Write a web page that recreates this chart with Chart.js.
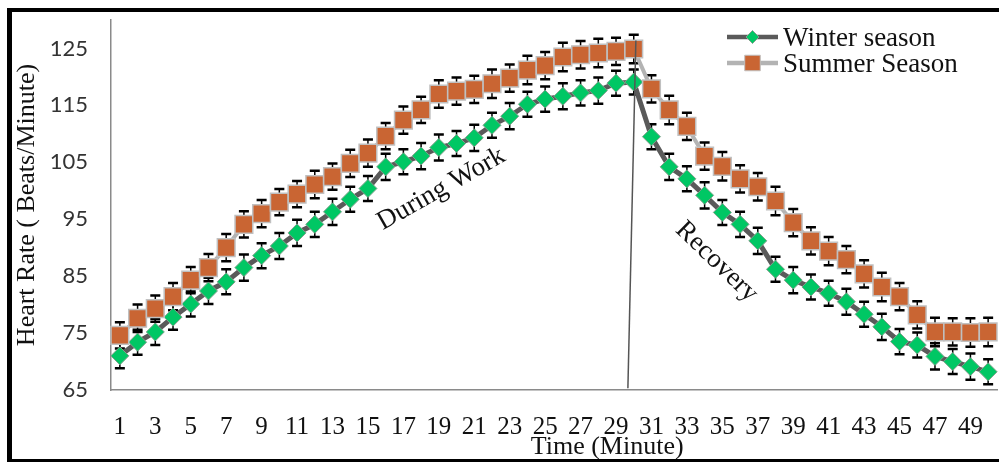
<!DOCTYPE html>
<html>
<head>
<meta charset="utf-8">
<script src="https://cdn.jsdelivr.net/npm/chart.js@4.4.1/dist/chart.umd.min.js"></script>
<style>
html, body { margin: 0; padding: 0; background: #fff; }
#wrap { position: relative; width: 999px; height: 462px; overflow: hidden; }
#frame { position: absolute; left: 7px; top: 8px; width: 1000px; height: 447px; border-top: 4px solid #000; border-left: 5px solid #000; border-bottom: 3px solid #000; pointer-events: none; }
canvas { position: absolute; left: 0; top: 0; }
</style>
</head>
<body>
<div id="wrap">
  <canvas id="hrChart" width="999" height="462"></canvas>
  <div id="frame"></div>
</div>
<script>
const minutes = [1,2,3,4,5,6,7,8,9,10,11,12,13,14,15,16,17,18,19,20,21,22,23,24,25,
                 26,27,28,29,30,31,32,33,34,35,36,37,38,39,40,41,42,43,44,45,46,47,48,49,50];
const yTicks = [65, 75, 85, 95, 105, 115, 125];

const winter = [71.0, 73.4, 75.2, 77.8, 80.1, 82.4, 84.0, 86.5, 88.6, 90.3,
                92.6, 94.1, 96.3, 98.5, 100.4, 104.2, 105.1, 106.1, 107.6, 108.3,
                109.3, 111.5, 113.1, 115.2, 116.1, 116.6, 117.2, 117.6, 118.9, 119.1,
                109.5, 104.2, 102.1, 99.2, 96.2, 94.1, 91.2, 86.2, 84.3, 83.1,
                82.0, 80.5, 78.3, 76.1, 73.5, 72.9, 70.9, 70.0, 69.1, 68.2];
const winterErr = [2.2, 2.2, 2.3, 2.2, 2.2, 2.3, 2.2, 2.3, 2.2, 2.3,
                   2.3, 2.2, 2.3, 2.2, 2.2, 2.3, 2.2, 2.3, 2.3, 2.2,
                   2.3, 2.2, 2.3, 2.2, 2.2, 2.3, 2.2, 2.3, 2.2, 2.2,
                   2.2, 2.3, 2.2, 2.3, 2.2, 2.2, 2.3, 2.2, 2.3, 2.2,
                   2.2, 2.3, 2.2, 2.3, 2.2, 2.2, 2.3, 2.2, 2.3, 2.2];

const summer = [74.6, 77.6, 79.3, 81.4, 84.3, 86.5, 90.0, 94.1, 96.0, 98.0,
                99.4, 101.1, 102.5, 104.8, 106.6, 109.6, 112.4, 114.2, 117.0, 117.5,
                117.8, 118.8, 119.8, 121.2, 122.0, 123.5, 123.9, 124.2, 124.5, 124.9,
                117.9, 114.2, 111.3, 106.1, 104.3, 102.1, 100.7, 98.2, 94.4, 91.2,
                89.4, 87.9, 85.4, 83.1, 81.4, 78.2, 75.2, 75.2, 75.1, 75.2];
const summerErr = [2.3, 2.4, 2.3, 2.4, 2.3, 2.4, 2.4, 2.3, 2.4, 2.3,
                   2.3, 2.4, 2.3, 2.4, 2.4, 2.3, 2.4, 2.3, 2.4, 2.4,
                   2.4, 2.5, 2.4, 2.5, 2.4, 2.5, 2.4, 2.5, 2.4, 2.5,
                   2.4, 2.5, 2.4, 2.4, 2.5, 2.4, 2.4, 2.5, 2.4, 2.4,
                   2.5, 2.4, 2.4, 2.5, 2.4, 2.4, 2.5, 2.4, 2.5, 2.5];

const serif = '"Liberation Serif", "Times New Roman", serif';

// text notes and the divider line, placed in data units (category index, bpm)
const notes = [
    { text: 'During Work', at: [18.14, 100.3], angle: -29.5 },
    { text: 'Recovery', at: [33.68, 87.5], angle: 44 }
];
const divider = { from: [29.12, 126.4], to: [28.67, 65.3] };

const errorBars = {
    id: 'errorBars',
    beforeDatasetsDraw(chart) {
        const ctx = chart.ctx, y = chart.scales.y;
        ctx.save();
        ctx.strokeStyle = '#000';
        chart.data.datasets.forEach((ds, i) => {
            const meta = chart.getDatasetMeta(i);
            meta.data.forEach((pt, j) => {
                const top = y.getPixelForValue(ds.data[j] + ds.err[j]);
                const bot = y.getPixelForValue(ds.data[j] - ds.err[j]);
                ctx.lineWidth = 1.5;
                ctx.beginPath();
                ctx.moveTo(pt.x, top); ctx.lineTo(pt.x, bot);
                ctx.stroke();
                ctx.lineWidth = 2.5;
                ctx.beginPath();
                ctx.moveTo(pt.x - 5, top); ctx.lineTo(pt.x + 5, top);
                ctx.moveTo(pt.x - 5, bot); ctx.lineTo(pt.x + 5, bot);
                ctx.stroke();
            });
        });
        ctx.restore();
    }
};

const annotations = {
    id: 'annotations',
    afterDatasetsDraw(chart) {
        const ctx = chart.ctx, xs = chart.scales.x, ys = chart.scales.y;
        ctx.save();
        ctx.strokeStyle = '#555';
        ctx.lineWidth = 1.5;
        ctx.beginPath();
        ctx.moveTo(xs.getPixelForValue(divider.from[0]), ys.getPixelForValue(divider.from[1]));
        ctx.lineTo(xs.getPixelForValue(divider.to[0]), ys.getPixelForValue(divider.to[1]));
        ctx.stroke();

        ctx.fillStyle = '#111';
        ctx.font = '27px ' + serif;
        ctx.textAlign = 'center';
        ctx.textBaseline = 'middle';
        notes.forEach(n => {
            ctx.save();
            ctx.translate(xs.getPixelForValue(n.at[0]), ys.getPixelForValue(n.at[1]));
            ctx.rotate(n.angle * Math.PI / 180);
            ctx.fillText(n.text, 0, 0);
            ctx.restore();
        });

        // x axis title, drawn by hand so it can sit off-centre like the original
        const area = chart.chartArea;
        ctx.font = '26px ' + serif;
        ctx.textBaseline = 'alphabetic';
        ctx.fillText('Time (Minute)', area.left + (area.right - area.left) * 0.56, 454);
        ctx.restore();
    }
};

const lineLegend = {
    id: 'lineLegend',
    afterDraw(chart) {
        const ctx = chart.ctx;
        ctx.save();
        chart.data.datasets.forEach((ds, i) => {
            const y = 37 + i * 26;
            ctx.strokeStyle = ds.borderColor;
            ctx.lineWidth = 4.5;
            ctx.beginPath();
            ctx.moveTo(727, y); ctx.lineTo(778, y);
            ctx.stroke();
            ctx.fillStyle = ds.pointBackgroundColor;
            ctx.strokeStyle = ds.pointBorderColor;
            ctx.lineWidth = 1;
            Chart.helpers.drawPoint(ctx, { pointStyle: ds.pointStyle, radius: ds.legendRadius, borderWidth: 1, rotation: 0 }, 752.5, y);
            ctx.fillStyle = '#111';
            ctx.font = '27px ' + serif;
            ctx.textAlign = 'left';
            ctx.textBaseline = 'alphabetic';
            ctx.fillText(ds.label, 783, y + 8.5);
        });
        ctx.restore();
    }
};

function initChart() {
    const ctx = document.getElementById('hrChart').getContext('2d');
    return new Chart(ctx, {
        type: 'line',
        data: {
            labels: minutes,
            datasets: [
                { label: 'Winter season', data: winter, err: winterErr,
                  borderColor: '#5a5a5a', borderWidth: 5,
                  pointStyle: 'rectRot', pointRadius: 9, legendRadius: 6.5,
                  pointBackgroundColor: '#00c764', pointBorderColor: '#7fa08a', pointBorderWidth: 1,
                  tension: 0, order: 2 },
                { label: 'Summer Season', data: summer, err: summerErr,
                  borderColor: '#b3b3b3', borderWidth: 4,
                  pointStyle: 'rect', pointRadius: 12.5, legendRadius: 11,
                  pointBackgroundColor: '#c96533', pointBorderColor: '#c0c0c0', pointBorderWidth: 1.5,
                  tension: 0, order: 1 }
            ]
        },
        options: {
            responsive: false,
            animation: false,
            layout: { autoPadding: false, padding: { top: 20, right: 2, left: 0, bottom: 0 } },
            plugins: { legend: { display: false }, tooltip: { enabled: false } },
            scales: {
                x: {
                    offset: true,
                    // invisible tick length pushes labels down without adding side padding
                    grid: { display: false, drawTicks: true, tickLength: 22 },
                    border: { display: true, color: '#8a8a8a', width: 1.5 },
                    ticks: {
                        autoSkip: false, maxRotation: 0, padding: 0,
                        color: '#111', font: { family: serif, size: 25 },
                        callback: (v, i) => i % 2 === 0 ? minutes[i] : ''
                    },
                    afterFit: s => { s.height = 72; s.paddingLeft = 0; s.paddingRight = 0; }
                },
                y: {
                    min: 65, max: 130,
                    grid: { display: false, drawTicks: false },
                    border: { display: true, color: '#8a8a8a', width: 1.5 },
                    ticks: { padding: 23, color: '#333', font: { family: 'Lato', size: 22 } },
                    afterBuildTicks: s => { s.ticks = yTicks.map(v => ({ value: v })); },
                    title: { display: true, text: 'Heart Rate ( Beats/Minute)', color: '#111',
                             font: { family: serif, size: 26 }, padding: { top: 12, bottom: 0 } },
                    afterFit: s => { s.width = 111; s.paddingTop = 0; s.paddingBottom = 0; }
                }
            }
        },
        plugins: [errorBars, annotations, lineLegend]
    });
}

initChart();
</script>
</body>
</html>
